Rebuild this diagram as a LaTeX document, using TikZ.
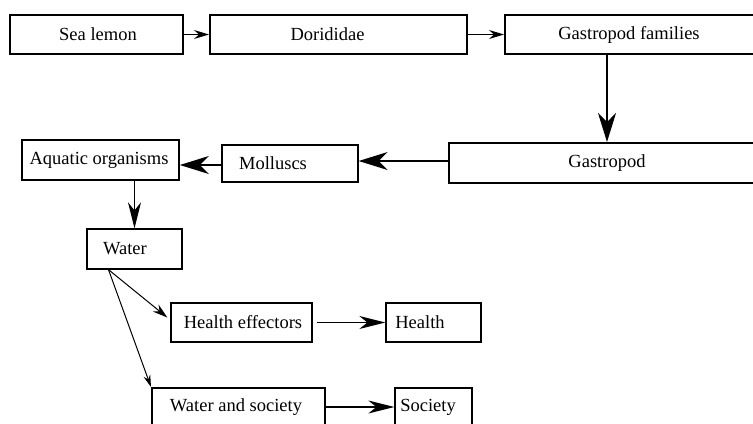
\documentclass[tikz,border=0pt]{standalone}
\usepackage{fontspec}
\setmainfont{Liberation Serif}
\usetikzlibrary{arrows.meta}
\begin{document}
\begin{tikzpicture}[x=1bp,y=-1bp,
  font=\fontsize{18.5bp}{22bp}\selectfont,
  box/.style={draw, line width=1.3bp, inner sep=0pt},
  heavy/.style={box, line width=2bp},
  conn/.style={line width=1.3bp},
  thin/.style={line width=1bp},
  bighead/.style={-{Stealth[length=29bp,width=18bp,inset=9bp]}},
  midhead/.style={-{Stealth[length=26bp,width=13bp,inset=8bp]}},
  smallhead/.style={-{Stealth[length=15bp,width=9bp,inset=5bp]}},
  tinyhead/.style={-{Stealth[length=12bp,width=7bp,inset=4bp]}}]
\useasboundingbox (0,0) rectangle (753,423);
\clip (0,0) rectangle (753,423);

% top row
\node[heavy, minimum width=173bp, minimum height=39bp,
      label={[xshift=1.5bp]center:Sea lemon}] (sea) at (96.5,34.5) {};
\node[heavy, minimum width=257bp, minimum height=39bp,
      label={[xshift=-11bp]center:Dorididae}] (dor) at (338.5,34.5) {};
\node[heavy, minimum width=255bp, minimum height=39bp,
      label={[xshift=-3.5bp]center:Gastropod families}] (gf) at (632.5,34.5) {};

% second row
\node[heavy, minimum width=316bp, minimum height=40bp,
      label={center:Gastropod}] (gas) at (607,163) {};
\node[box, minimum width=136bp, minimum height=37bp,
      label={[xshift=-17bp]center:Molluscs}] (mol) at (290,163.5) {};
\node[box, line width=1.7bp, minimum width=157bp, minimum height=40bp,
      label={[xshift=-1.5bp]center:Aquatic organisms}] (aq) at (100.5,160) {};

% lower part
\node[box, minimum width=95bp, minimum height=40bp,
      label={[xshift=-9.5bp]center:Water}] (water) at (134.5,249) {};
\node[box, minimum width=141bp, minimum height=39bp,
      label={[xshift=1.5bp]center:Health effectors}] (he) at (241.5,322.5) {};
\node[box, minimum width=95bp, minimum height=39bp,
      label={[xshift=-13.5bp]center:Health}] (hl) at (433.5,322.5) {};
\node[heavy, minimum width=173bp, minimum height=40bp,
      label={[xshift=-2.5bp,yshift=1bp]center:Water and society}] (ws) at (238.5,408) {};
\node[box, minimum width=77bp, minimum height=40bp,
      label={[xshift=-5.5bp,yshift=1bp]center:Society}] (soc) at (433.5,408) {};

% connectors
\draw[conn, smallhead] (sea.east) -- (dor.west);
\draw[conn, smallhead] (dor.east) -- (gf.west);
\draw[conn, bighead] (gas.north |- gf.south) -- (gas.north);
\draw[conn, bighead] ([yshift=2bp]gas.west) -- ([yshift=2bp]gas.west -| mol.east);
\draw[conn, bighead] ([yshift=-1.5bp]mol.west) -- ([yshift=-1.5bp]mol.west -| aq.east);
\draw[conn, midhead] (water.north |- aq.south) -- (water.north);
\draw[thin, smallhead] ([xshift=-26bp]water.south) -- ([xshift=-3bp,yshift=5bp]he.west);
\draw[thin, tinyhead] ([xshift=-26bp]water.south) -- (ws.north west);
\draw[conn, midhead] ([xshift=4bp]he.east) -- (hl.west);
\draw[conn, midhead] ([yshift=1bp]ws.east) -- ([yshift=1bp]soc.west);
\end{tikzpicture}
\end{document}
